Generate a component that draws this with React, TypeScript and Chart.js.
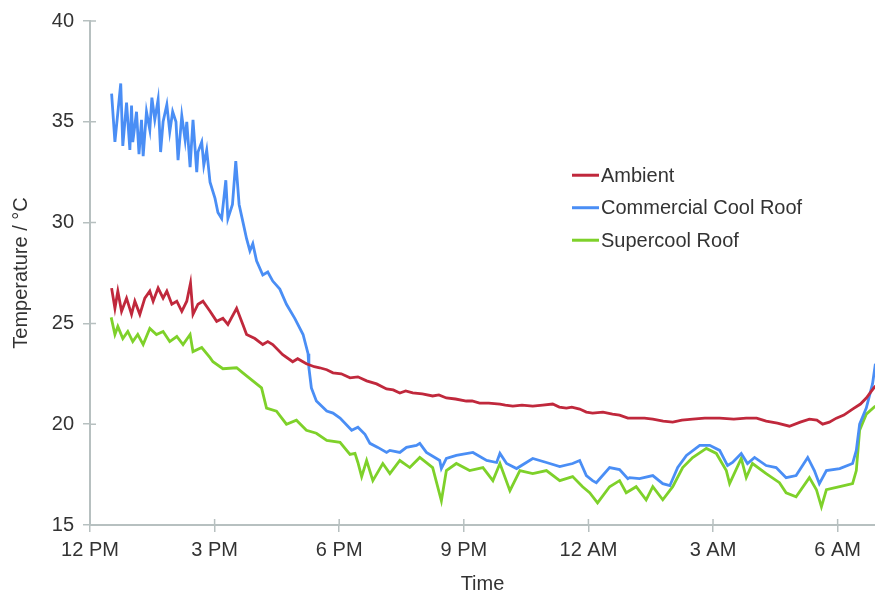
import { useEffect, useRef } from "react";
import { Chart, registerables } from "chart.js";
Chart.register(...registerables);

// X tick positions (hours after noon) and their labels
const xTickHours = [0, 3, 6, 9, 12, 15, 18];
const xTickLabels = ["12 PM", "3 PM", "6 PM", "9 PM", "12 AM", "3 AM", "6 AM"];
const yTickValues = [15, 20, 25, 30, 35, 40];

const seriesNames = ["Ambient", "Commercial Cool Roof", "Supercool Roof"];
const seriesColors = ["#c0283c", "#4a8ef5", "#7ed12a"];

// Ambient (hours after 12 PM, °C)
const ambientTimes = [0.52, 0.60, 0.67, 0.76, 0.88, 1.00, 1.08, 1.20, 1.32, 1.44, 1.52, 1.64, 1.76, 1.85, 1.97, 2.09, 2.21, 2.33, 2.42, 2.48, 2.60, 2.72, 2.89, 3.05, 3.20, 3.32, 3.53, 3.68, 3.77, 3.97, 4.16, 4.28, 4.40, 4.64, 4.88, 5.00, 5.21, 5.40, 5.53, 5.70, 5.85, 6.05, 6.26, 6.45, 6.66, 6.90, 7.14, 7.30, 7.46, 7.60, 7.77, 8.00, 8.25, 8.40, 8.58, 8.80, 9.06, 9.20, 9.38, 9.60, 9.87, 10.00, 10.18, 10.40, 10.66, 10.90, 11.14, 11.30, 11.47, 11.60, 11.79, 11.95, 12.10, 12.35, 12.58, 12.75, 12.95, 13.15, 13.35, 13.55, 13.80, 14.03, 14.25, 14.51, 14.80, 15.16, 15.50, 15.80, 16.05, 16.28, 16.55, 16.84, 17.10, 17.32, 17.50, 17.64, 17.80, 17.97, 18.15, 18.36, 18.55, 18.69, 18.80, 18.91];
const ambientTemps = [26.75, 25.75, 26.6, 25.6, 26.25, 25.45, 26.1, 25.45, 26.25, 26.6, 26.1, 26.75, 26.25, 26.6, 25.95, 26.1, 25.6, 26.1, 27.0, 25.45, 25.95, 26.1, 25.6, 25.1, 25.25, 24.95, 25.75, 24.95, 24.45, 24.25, 23.95, 24.1, 23.95, 23.45, 23.1, 23.25, 23.0, 22.85, 22.8, 22.7, 22.55, 22.5, 22.3, 22.35, 22.15, 22.0, 21.75, 21.7, 21.55, 21.65, 21.55, 21.5, 21.4, 21.45, 21.3, 21.25, 21.15, 21.15, 21.05, 21.05, 21.0, 20.95, 20.9, 20.95, 20.9, 20.95, 21.0, 20.85, 20.8, 20.85, 20.75, 20.6, 20.55, 20.6, 20.5, 20.45, 20.3, 20.3, 20.3, 20.25, 20.15, 20.1, 20.2, 20.25, 20.3, 20.3, 20.25, 20.3, 20.3, 20.15, 20.05, 19.9, 20.1, 20.25, 20.2, 20.0, 20.1, 20.3, 20.45, 20.75, 21.0, 21.3, 21.6, 21.9];

// Commercial Cool Roof
const coolTimes = [0.52, 0.60, 0.74, 0.79, 0.88, 0.96, 1.00, 1.03, 1.12, 1.18, 1.24, 1.28, 1.36, 1.44, 1.49, 1.56, 1.64, 1.70, 1.76, 1.85, 1.92, 1.99, 2.07, 2.12, 2.21, 2.29, 2.33, 2.41, 2.48, 2.57, 2.60, 2.69, 2.74, 2.81, 2.89, 3.01, 3.08, 3.17, 3.27, 3.32, 3.43, 3.51, 3.59, 3.68, 3.77, 3.85, 3.92, 4.01, 4.16, 4.28, 4.40, 4.57, 4.73, 4.93, 5.13, 5.25, 5.27, 5.33, 5.45, 5.70, 5.85, 6.02, 6.30, 6.45, 6.62, 6.74, 6.93, 7.14, 7.22, 7.46, 7.62, 7.86, 7.94, 8.10, 8.42, 8.46, 8.58, 8.82, 9.22, 9.55, 9.79, 9.87, 10.03, 10.27, 10.66, 10.99, 11.31, 11.62, 11.79, 11.95, 12.10, 12.19, 12.51, 12.75, 12.95, 12.99, 13.23, 13.55, 13.79, 13.96, 14.15, 14.36, 14.68, 14.92, 15.16, 15.35, 15.47, 15.68, 15.83, 16.00, 16.28, 16.52, 16.76, 17.00, 17.28, 17.44, 17.56, 17.73, 18.05, 18.36, 18.45, 18.53, 18.69, 18.84, 18.91];
const coolTemps = [36.4, 34.0, 36.9, 33.8, 35.95, 33.6, 35.8, 34.0, 35.5, 33.4, 35.1, 33.3, 35.5, 34.6, 36.2, 35.1, 36.1, 33.5, 35.0, 35.85, 34.5, 35.5, 35.0, 33.1, 35.3, 34.1, 35.0, 32.75, 35.1, 32.5, 33.5, 34.0, 32.85, 33.6, 32.0, 31.2, 30.5, 30.2, 32.1, 30.2, 30.9, 33.05, 30.9, 30.05, 29.2, 28.6, 28.95, 28.1, 27.4, 27.55, 27.1, 26.7, 25.95, 25.25, 24.45, 23.5, 22.8, 21.8, 21.15, 20.65, 20.55, 20.3, 19.7, 19.85, 19.5, 19.05, 18.85, 18.6, 18.7, 18.6, 18.85, 18.95, 19.05, 18.6, 18.2, 17.8, 18.3, 18.45, 18.6, 18.2, 18.1, 18.55, 18.05, 17.8, 18.3, 18.1, 17.9, 18.05, 18.2, 17.45, 17.2, 17.1, 17.85, 17.75, 17.3, 17.35, 17.3, 17.45, 17.05, 16.95, 17.85, 18.45, 18.95, 18.95, 18.7, 17.95, 18.1, 18.55, 18.05, 18.35, 17.95, 17.85, 17.35, 17.45, 18.35, 17.7, 17.05, 17.7, 17.8, 18.05, 18.7, 20.0, 20.8, 22.0, 23.0];

// Supercool Roof
const superTimes = [0.51, 0.60, 0.67, 0.79, 0.91, 1.03, 1.15, 1.28, 1.44, 1.60, 1.76, 1.92, 2.09, 2.24, 2.41, 2.48, 2.69, 2.89, 2.96, 3.20, 3.53, 3.68, 3.92, 4.13, 4.25, 4.49, 4.73, 4.97, 5.21, 5.45, 5.70, 6.02, 6.26, 6.38, 6.45, 6.54, 6.66, 6.81, 7.05, 7.22, 7.46, 7.70, 7.94, 8.25, 8.46, 8.58, 8.82, 9.14, 9.46, 9.70, 9.87, 10.11, 10.35, 10.66, 10.99, 11.31, 11.62, 11.86, 12.03, 12.22, 12.51, 12.75, 12.91, 13.15, 13.39, 13.55, 13.79, 14.03, 14.27, 14.51, 14.84, 15.08, 15.32, 15.40, 15.68, 15.80, 15.95, 16.28, 16.60, 16.76, 17.00, 17.32, 17.49, 17.61, 17.73, 18.05, 18.36, 18.45, 18.53, 18.69, 18.91];
const superTemps = [25.3, 24.45, 24.85, 24.25, 24.6, 24.1, 24.45, 23.95, 24.75, 24.45, 24.6, 24.1, 24.35, 23.95, 24.45, 23.6, 23.8, 23.3, 23.1, 22.75, 22.8, 22.55, 22.15, 21.8, 20.8, 20.65, 20.0, 20.2, 19.7, 19.55, 19.2, 19.1, 18.5, 18.55, 18.1, 17.4, 18.2, 17.2, 18.05, 17.55, 18.2, 17.85, 18.35, 17.85, 16.2, 17.7, 18.05, 17.7, 17.85, 17.2, 18.05, 16.7, 17.7, 17.55, 17.7, 17.2, 17.4, 16.9, 16.6, 16.1, 16.9, 17.2, 16.6, 16.9, 16.25, 16.9, 16.25, 16.9, 17.85, 18.35, 18.8, 18.55, 17.7, 17.05, 18.3, 17.35, 18.05, 17.55, 17.1, 16.6, 16.4, 17.35, 16.75, 15.9, 16.75, 16.9, 17.05, 17.7, 19.7, 20.5, 20.9];

const FONT = "'Liberation Sans', Arial, Helvetica, sans-serif";
const AXIS_COLOR = "#b7c0c0";
const TEXT_COLOR = "#333333";
const FONT_SIZE = 20;

function pairs(times: number[], temps: number[]) {
  return times.map((t, i) => ({ x: t, y: temps[i] }));
}

const innerTicksPlugin = {
  id: "innerTicks",
  afterDraw(chart: any) {
    const { ctx, chartArea, scales } = chart;
    ctx.save();
    ctx.strokeStyle = AXIS_COLOR;
    ctx.lineWidth = 1.5;
    ctx.beginPath();
    yTickValues.forEach((v) => {
      const y = scales.y.getPixelForValue(v);
      ctx.moveTo(chartArea.left, y);
      ctx.lineTo(chartArea.left + 6, y);
    });
    xTickHours.forEach((h) => {
      const x = scales.x.getPixelForValue(h);
      ctx.moveTo(x, chartArea.bottom);
      ctx.lineTo(x, chartArea.bottom - 6);
    });
    ctx.stroke();
    ctx.restore();
  },
};

const legendPlugin = {
  id: "insideLegend",
  afterDraw(chart: any) {
    const { ctx, chartArea } = chart;
    const w = chartArea.right - chartArea.left;
    const h = chartArea.bottom - chartArea.top;
    const x0 = chartArea.left + w * 0.614;
    const y0 = chartArea.top + h * 0.306;
    const gap = 32.5;
    ctx.save();
    ctx.font = `${FONT_SIZE}px ${FONT}`;
    ctx.textBaseline = "middle";
    ctx.textAlign = "left";
    seriesNames.forEach((name, i) => {
      const y = y0 + i * gap;
      ctx.strokeStyle = seriesColors[i];
      ctx.lineWidth = 3;
      ctx.beginPath();
      ctx.moveTo(x0, y);
      ctx.lineTo(x0 + 27, y);
      ctx.stroke();
      ctx.fillStyle = TEXT_COLOR;
      ctx.fillText(name, x0 + 29, y + 1);
    });
    ctx.restore();
  },
};

export default function App() {
  const canvasRef = useRef<HTMLCanvasElement | null>(null);

  useEffect(() => {
    if (!canvasRef.current) return;
    const series = [
      pairs(ambientTimes, ambientTemps),
      pairs(coolTimes, coolTemps),
      pairs(superTimes, superTemps),
    ];
    const chart = new Chart(canvasRef.current, {
      type: "line",
      data: {
        datasets: seriesNames.map((name, i) => ({
          label: name,
          data: series[i],
          borderColor: seriesColors[i],
          backgroundColor: seriesColors[i],
          borderWidth: 2.8,
          pointRadius: 0,
          tension: 0,
          fill: false,
        })),
      },
      options: {
        animation: false,
        responsive: true,
        maintainAspectRatio: false,
        layout: { padding: { top: 7, right: 0, bottom: 0, left: 0 } },
        plugins: {
          legend: { display: false },
          tooltip: { enabled: false },
        },
        scales: {
          x: {
            type: "linear",
            min: 0,
            max: 18.9,
            afterFit: (scale: any) => {
              scale.height = 72;
            },
            afterBuildTicks: (scale: any) => {
              scale.ticks = xTickHours.map((v) => ({ value: v }));
            },
            ticks: {
              autoSkip: false,
              maxRotation: 0,
              padding: 6,
              color: TEXT_COLOR,
              font: { family: FONT, size: FONT_SIZE },
              callback: (v: any) => {
                const idx = xTickHours.indexOf(Number(v));
                return idx >= 0 ? xTickLabels[idx] : "";
              },
            },
            grid: {
              display: true,
              drawOnChartArea: false,
              drawTicks: true,
              tickLength: 7,
              color: AXIS_COLOR,
              lineWidth: 1.5,
            },
            border: { display: true, color: AXIS_COLOR, width: 2 },
            title: {
              display: true,
              text: "Time",
              color: TEXT_COLOR,
              font: { family: FONT, size: FONT_SIZE },
              padding: { top: 4, bottom: 1 },
            },
          },
          y: {
            type: "linear",
            min: 15,
            max: 40,
            afterFit: (scale: any) => {
              scale.width = 90;
            },
            afterBuildTicks: (scale: any) => {
              scale.ticks = yTickValues.map((v) => ({ value: v }));
            },
            ticks: {
              padding: 9,
              color: TEXT_COLOR,
              font: { family: FONT, size: FONT_SIZE },
            },
            grid: {
              display: true,
              drawOnChartArea: false,
              drawTicks: true,
              tickLength: 7,
              color: AXIS_COLOR,
              lineWidth: 1.5,
            },
            border: { display: true, color: AXIS_COLOR, width: 2 },
            title: {
              display: true,
              text: "Temperature / °C",
              color: TEXT_COLOR,
              font: { family: FONT, size: FONT_SIZE },
              padding: { top: 9, bottom: 0 },
            },
          },
        },
      },
      plugins: [innerTicksPlugin, legendPlugin],
    });
    return () => chart.destroy();
  }, []);

  return (
    <div
      style={{
        position: "fixed",
        left: 0,
        top: 0,
        width: 875,
        height: 597,
        background: "#ffffff",
      }}
    >
      <canvas ref={canvasRef} />
    </div>
  );
}
